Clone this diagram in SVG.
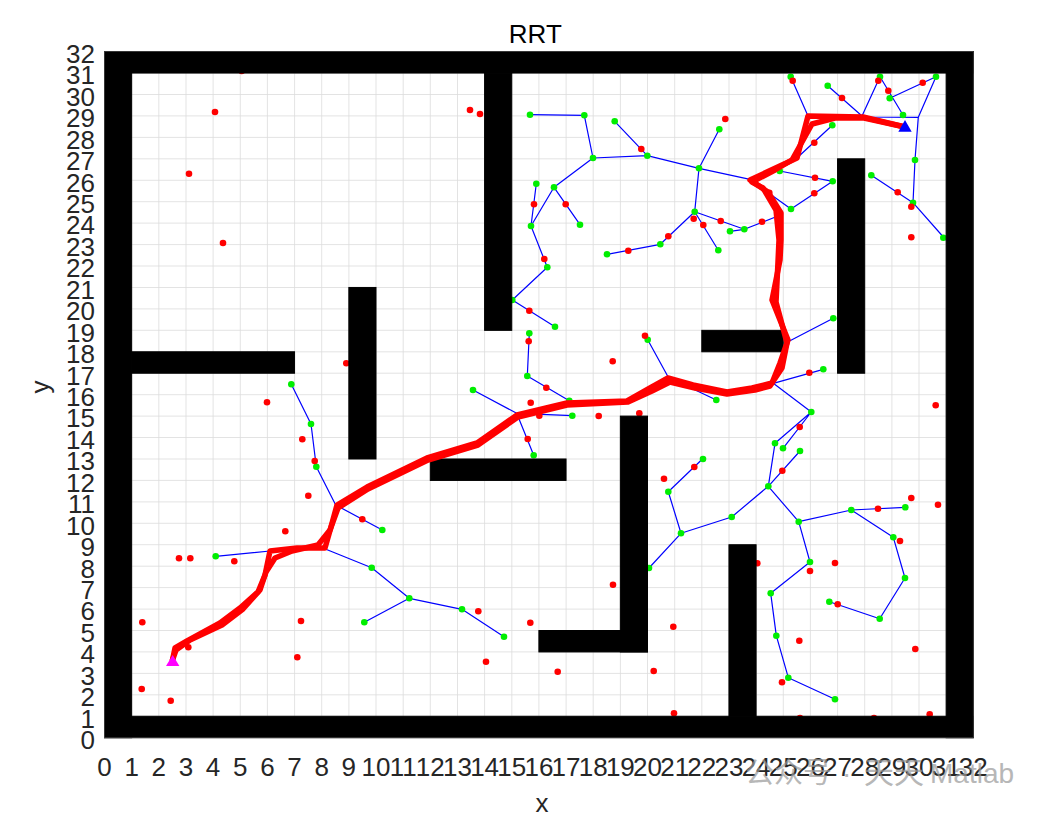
<svg xmlns="http://www.w3.org/2000/svg" width="1049" height="816" viewBox="0 0 1049 816">
<style>
.grid{stroke:#dcdcdc;stroke-width:0.8;fill:none}
.e{stroke:#0000ff;stroke-width:1.2;fill:none;stroke-linejoin:round}
.g{fill:#00ee00}
.r{fill:#ff0000}
.w{fill:#000;stroke:#000;stroke-width:1}
.p{stroke:#ff0000;stroke-width:5.5;fill:none;stroke-linejoin:round;stroke-linecap:round}
.t{font-family:"Liberation Sans",Arial,sans-serif;font-size:26px;fill:#262626}
.xt{text-anchor:middle}
.yt{text-anchor:end}
.wm{font-family:"Liberation Sans","Noto Sans CJK SC",sans-serif;fill:#999;opacity:0.7}
</style>
<rect width="1049" height="816" fill="#fff"/>
<g id="grid">
<path class="grid" d="M131.7 51.6V737.7M158.8 51.6V737.7M186 51.6V737.7M213.1 51.6V737.7M240.3 51.6V737.7M267.4 51.6V737.7M294.6 51.6V737.7M321.7 51.6V737.7M348.9 51.6V737.7M376 51.6V737.7M403.2 51.6V737.7M430.3 51.6V737.7M457.5 51.6V737.7M484.6 51.6V737.7M511.8 51.6V737.7M538.9 51.6V737.7M566.1 51.6V737.7M593.2 51.6V737.7M620.4 51.6V737.7M647.5 51.6V737.7M674.7 51.6V737.7M701.8 51.6V737.7M729 51.6V737.7M756.1 51.6V737.7M783.3 51.6V737.7M810.4 51.6V737.7M837.6 51.6V737.7M864.7 51.6V737.7M891.9 51.6V737.7M919 51.6V737.7M946.2 51.6V737.7"/>
<path class="grid" d="M104.5 716.3H973.3M104.5 694.8H973.3M104.5 673.4H973.3M104.5 651.9H973.3M104.5 630.5H973.3M104.5 609.1H973.3M104.5 587.6H973.3M104.5 566.2H973.3M104.5 544.7H973.3M104.5 523.3H973.3M104.5 501.9H973.3M104.5 480.4H973.3M104.5 459H973.3M104.5 437.5H973.3M104.5 416.1H973.3M104.5 394.7H973.3M104.5 373.2H973.3M104.5 351.8H973.3M104.5 330.3H973.3M104.5 308.9H973.3M104.5 287.5H973.3M104.5 266H973.3M104.5 244.6H973.3M104.5 223.1H973.3M104.5 201.7H973.3M104.5 180.3H973.3M104.5 158.8H973.3M104.5 137.4H973.3M104.5 115.9H973.3M104.5 94.5H973.3M104.5 73.1H973.3"/>
</g>
<g id="tree-edges">
<path class="e" d="M291.3 384.3L311 424L316.3 466.7L335.7 505L382.3 530M215.7 556.3L270 551M325.3 549L371.7 567.7L409.3 598.3L364.3 622.3M409.3 598.3L462 609.3L504 636.7M547.3 267.3L512.3 300L555 326.7M529.3 333.3L527.3 376L569.3 400.7M473 390L516.7 413.3L572.3 415.7M516.7 413.3L533.7 455.3M530 114.7L584.3 115.3L593 158L647.3 155.7L699 168.3L750 179.3M614.7 121.3L647.3 155.7M699 168.3L719.3 129.3M699 168.3L694.7 211.7L718.3 250.3M694.7 211.7L660.3 244.3L607 254.3M694.7 211.7L744.3 229.3L778 216M730 231.3L744.3 229.3M593 158L554 187.3L531 226L536.3 183.7M554 187.3L580 224.7M531 226L547.3 267.3M790.7 76.7L808 116M827.7 85.7L862 116L880 76.7L903 115M862 117L918.3 117.3L936 76.7L889.7 98.3M918.3 117.3L915 160L913 202.7L871.3 175.3M913 202.7L946 240M832.3 125.3L798.3 156.7M779.7 171L832.7 181.3L791 209L760 186.7M647.7 339.7L668.3 377.3L716.3 400M790 340.7L833.3 318.3M773.3 383.3L823.3 369.3M773.3 383.3L811.3 412L775 443.3L768.3 486.3L800 451M811.3 412L783 448.3M768.3 486.3L731.7 517L681 533.3L668.3 491.7L702.7 458.7M681 533.3L649 568M768.3 486.3L798.7 521.7L851.3 510L905.3 507.3M851.3 510L893.3 537.3L905 578L879.7 618.7L829.3 601.7M798.7 521.7L810 562L770.7 593.3L776.3 635.7L788.3 677.7L835 699.3"/>
</g>
<g id="tree-nodes">
<circle class="g" cx="291.3" cy="384.3" r="3.3"/><circle class="g" cx="311" cy="424" r="3.3"/><circle class="g" cx="316.3" cy="466.7" r="3.3"/><circle class="g" cx="382.3" cy="530" r="3.3"/><circle class="g" cx="215.7" cy="556.3" r="3.3"/><circle class="g" cx="371.7" cy="567.7" r="3.3"/><circle class="g" cx="409.3" cy="598.3" r="3.3"/><circle class="g" cx="364.3" cy="622.3" r="3.3"/><circle class="g" cx="462" cy="609.3" r="3.3"/><circle class="g" cx="504" cy="636.7" r="3.3"/>
<circle class="g" cx="547.3" cy="267.3" r="3.3"/><circle class="g" cx="512.3" cy="300" r="3.3"/><circle class="g" cx="555" cy="326.7" r="3.3"/><circle class="g" cx="529.3" cy="333.3" r="3.3"/><circle class="g" cx="527.3" cy="376" r="3.3"/><circle class="g" cx="569.3" cy="400.7" r="3.3"/><circle class="g" cx="473" cy="390" r="3.3"/><circle class="g" cx="572.3" cy="415.7" r="3.3"/><circle class="g" cx="533.7" cy="455.3" r="3.3"/>
<circle class="g" cx="530" cy="114.7" r="3.3"/><circle class="g" cx="584.3" cy="115.3" r="3.3"/><circle class="g" cx="593" cy="158" r="3.3"/><circle class="g" cx="614.7" cy="121.3" r="3.3"/><circle class="g" cx="647.3" cy="155.7" r="3.3"/><circle class="g" cx="699" cy="168.3" r="3.3"/><circle class="g" cx="719.3" cy="129.3" r="3.3"/><circle class="g" cx="694.7" cy="211.7" r="3.3"/><circle class="g" cx="718.3" cy="250.3" r="3.3"/><circle class="g" cx="660.3" cy="244.3" r="3.3"/><circle class="g" cx="607" cy="254.3" r="3.3"/><circle class="g" cx="744.3" cy="229.3" r="3.3"/><circle class="g" cx="730" cy="231.3" r="3.3"/><circle class="g" cx="554" cy="187.3" r="3.3"/><circle class="g" cx="536.3" cy="183.7" r="3.3"/><circle class="g" cx="531" cy="226" r="3.3"/><circle class="g" cx="580" cy="224.7" r="3.3"/>
<circle class="g" cx="790.7" cy="76.7" r="3.3"/><circle class="g" cx="827.7" cy="85.7" r="3.3"/><circle class="g" cx="880" cy="76.7" r="3.3"/><circle class="g" cx="889.7" cy="98.3" r="3.3"/><circle class="g" cx="903" cy="115" r="3.3"/><circle class="g" cx="936" cy="76.7" r="3.3"/><circle class="g" cx="832.3" cy="125.3" r="3.3"/><circle class="g" cx="915" cy="160" r="3.3"/><circle class="g" cx="779.7" cy="171" r="3.3"/><circle class="g" cx="832.7" cy="181.3" r="3.3"/><circle class="g" cx="791" cy="209" r="3.3"/><circle class="g" cx="871.3" cy="175.3" r="3.3"/><circle class="g" cx="913" cy="202.7" r="3.3"/><circle class="g" cx="943.3" cy="237.7" r="3.3"/>
<circle class="g" cx="647.7" cy="339.7" r="3.3"/><circle class="g" cx="716.3" cy="400" r="3.3"/><circle class="g" cx="833.3" cy="318.3" r="3.3"/><circle class="g" cx="823.3" cy="369.3" r="3.3"/><circle class="g" cx="811.3" cy="412" r="3.3"/><circle class="g" cx="775" cy="443.3" r="3.3"/><circle class="g" cx="783" cy="448.3" r="3.3"/><circle class="g" cx="800" cy="451" r="3.3"/><circle class="g" cx="703" cy="459" r="3.3"/><circle class="g" cx="668.3" cy="491.7" r="3.3"/><circle class="g" cx="768.3" cy="486.3" r="3.3"/><circle class="g" cx="731.7" cy="517" r="3.3"/><circle class="g" cx="681" cy="533.3" r="3.3"/><circle class="g" cx="798.7" cy="521.7" r="3.3"/><circle class="g" cx="851.3" cy="510" r="3.3"/><circle class="g" cx="905.3" cy="507.3" r="3.3"/><circle class="g" cx="893.3" cy="537.3" r="3.3"/><circle class="g" cx="649" cy="568" r="3.3"/>
<circle class="g" cx="810" cy="562" r="3.3"/><circle class="g" cx="770.7" cy="593.3" r="3.3"/><circle class="g" cx="776.3" cy="635.7" r="3.3"/><circle class="g" cx="788.3" cy="677.7" r="3.3"/><circle class="g" cx="835" cy="699.3" r="3.3"/><circle class="g" cx="905" cy="578" r="3.3"/><circle class="g" cx="879.7" cy="618.7" r="3.3"/><circle class="g" cx="829.3" cy="601.7" r="3.3"/>
</g>
<g id="samples">
<circle class="r" cx="215" cy="112" r="3.3"/><circle class="r" cx="189" cy="173.7" r="3.3"/><circle class="r" cx="223" cy="243" r="3.3"/><circle class="r" cx="470" cy="110" r="3.3"/><circle class="r" cx="480" cy="114" r="3.3"/><circle class="r" cx="241.7" cy="71" r="3.3"/><circle class="r" cx="142.3" cy="622.3" r="3.3"/><circle class="r" cx="301" cy="621" r="3.3"/><circle class="r" cx="188.3" cy="647.3" r="3.3"/><circle class="r" cx="297.3" cy="657.3" r="3.3"/><circle class="r" cx="141.7" cy="689" r="3.3"/><circle class="r" cx="170.7" cy="700.7" r="3.3"/>
<circle class="r" cx="346.3" cy="363.3" r="3.3"/><circle class="r" cx="267" cy="402.3" r="3.3"/><circle class="r" cx="302.3" cy="439.3" r="3.3"/><circle class="r" cx="308.3" cy="495.7" r="3.3"/><circle class="r" cx="285.3" cy="531.3" r="3.3"/><circle class="r" cx="362.3" cy="519.3" r="3.3"/><circle class="r" cx="179" cy="558.3" r="3.3"/><circle class="r" cx="190.3" cy="558.3" r="3.3"/><circle class="r" cx="234.3" cy="561.3" r="3.3"/><circle class="r" cx="314.7" cy="461" r="3.3"/>
<circle class="r" cx="544.3" cy="259" r="3.3"/><circle class="r" cx="529.3" cy="310.7" r="3.3"/><circle class="r" cx="528.7" cy="341.3" r="3.3"/><circle class="r" cx="612.7" cy="361.3" r="3.3"/><circle class="r" cx="645" cy="335.7" r="3.3"/><circle class="r" cx="546.3" cy="387.7" r="3.3"/><circle class="r" cx="530.7" cy="402.7" r="3.3"/><circle class="r" cx="539.3" cy="415.7" r="3.3"/><circle class="r" cx="598.7" cy="416" r="3.3"/><circle class="r" cx="639.3" cy="413.3" r="3.3"/><circle class="r" cx="527.7" cy="439" r="3.3"/><circle class="r" cx="628.3" cy="250.7" r="3.3"/>
<circle class="r" cx="725.3" cy="119" r="3.3"/><circle class="r" cx="641.3" cy="149" r="3.3"/><circle class="r" cx="534" cy="204.3" r="3.3"/><circle class="r" cx="565.7" cy="204.3" r="3.3"/><circle class="r" cx="693.7" cy="218.7" r="3.3"/><circle class="r" cx="703.3" cy="225" r="3.3"/><circle class="r" cx="720.7" cy="221" r="3.3"/><circle class="r" cx="762" cy="221.7" r="3.3"/><circle class="r" cx="668.3" cy="236.3" r="3.3"/><circle class="r" cx="769.3" cy="192.7" r="3.3"/>
<circle class="r" cx="792.7" cy="80.7" r="3.3"/><circle class="r" cx="842" cy="98" r="3.3"/><circle class="r" cx="878.3" cy="80.7" r="3.3"/><circle class="r" cx="888.3" cy="90.7" r="3.3"/><circle class="r" cx="922.7" cy="82.7" r="3.3"/><circle class="r" cx="814.3" cy="142.7" r="3.3"/><circle class="r" cx="815" cy="177.7" r="3.3"/><circle class="r" cx="814.3" cy="193.3" r="3.3"/><circle class="r" cx="897.7" cy="192.3" r="3.3"/><circle class="r" cx="911.3" cy="206.7" r="3.3"/><circle class="r" cx="911.3" cy="237.3" r="3.3"/>
<circle class="r" cx="809.3" cy="372.7" r="3.3"/><circle class="r" cx="935.7" cy="405.3" r="3.3"/><circle class="r" cx="799.7" cy="427" r="3.3"/><circle class="r" cx="782.3" cy="470.7" r="3.3"/><circle class="r" cx="694.3" cy="467" r="3.3"/><circle class="r" cx="664" cy="478.7" r="3.3"/><circle class="r" cx="911.3" cy="498" r="3.3"/><circle class="r" cx="938" cy="504.7" r="3.3"/><circle class="r" cx="878" cy="508.7" r="3.3"/><circle class="r" cx="900" cy="541" r="3.3"/><circle class="r" cx="810" cy="571" r="3.3"/><circle class="r" cx="835" cy="563" r="3.3"/>
<circle class="r" cx="613" cy="584.7" r="3.3"/><circle class="r" cx="478.3" cy="611.3" r="3.3"/><circle class="r" cx="530.3" cy="622.7" r="3.3"/><circle class="r" cx="673.3" cy="626.7" r="3.3"/><circle class="r" cx="757.3" cy="563.3" r="3.3"/><circle class="r" cx="486" cy="661.7" r="3.3"/><circle class="r" cx="557.7" cy="671.7" r="3.3"/><circle class="r" cx="653.7" cy="671" r="3.3"/><circle class="r" cx="674" cy="713.3" r="3.3"/>
<circle class="r" cx="837.7" cy="604.3" r="3.3"/><circle class="r" cx="799.3" cy="640.7" r="3.3"/><circle class="r" cx="915.3" cy="649" r="3.3"/><circle class="r" cx="782" cy="682.3" r="3.3"/><circle class="r" cx="929.7" cy="714.3" r="3.3"/><circle class="r" cx="800" cy="718" r="3.3"/><circle class="r" cx="874" cy="718" r="3.3"/>
</g>
<g id="obstacles">
<rect class="w" x="104.5" y="51.6" width="27.15" height="686.1"/>
<rect class="w" x="946.15" y="51.6" width="27.15" height="686.1"/>
<rect class="w" x="104.5" y="51.6" width="868.8" height="21.44"/>
<rect class="w" x="104.5" y="716.26" width="868.8" height="21.44"/>
<rect class="w" x="484.6" y="73.06" width="27.15" height="257.28"/>
<rect class="w" x="131.65" y="351.78" width="162.9" height="21.44"/>
<rect class="w" x="348.85" y="287.46" width="27.15" height="171.52"/>
<rect class="w" x="430.3" y="458.98" width="135.75" height="21.44"/>
<rect class="w" x="620.35" y="416.1" width="27.15" height="235.84"/>
<rect class="w" x="538.9" y="630.5" width="108.6" height="21.44"/>
<rect class="w" x="728.95" y="544.74" width="27.15" height="171.52"/>
<rect class="w" x="701.8" y="330.34" width="81.45" height="21.44"/>
<rect class="w" x="837.55" y="158.82" width="27.15" height="214.4"/>
<rect x="104.5" y="51.6" width="868.8" height="686.1" fill="none" stroke="#444" stroke-width="0.8"/>
</g>
<g id="path">
<polyline class="p" points="172.5,660 175,648 187,641 220,623 240,608 258,592 265,575 270,551 297,548 325,548 331,527 337,505 367,487 427,458 477,443 517,415 567,403 627,401 650,388 668,378 693,385 727,392 752,388 772,383 780,363 788,340 772,300 780,260 781,240 781,213 768,192 750,180 797,158 808,116 863,117 905,127"/>
<polyline class="p" points="172.5,660 176,650 190,640 222,625 243,609 260,590 266,572 275,558 292,551 318,545 330,530 338,508 368,489 428,460 478,445 518,417 567,405 628,402 652,391 670,382 695,388 727,394 755,390 770,386 782,368 787,343 776,302 778,262 779,240 776,210 763,188 752,182 775,170 792,160 802,142 812,124 835,118 864,118 905,127"/>
</g>
<g id="start"><polygon points="172.7,655 166,666 179.4,666" fill="#ff00ff"/></g>
<g id="goal"><polygon points="905,120 898.3,131.7 911.7,131.7" fill="#0000ff"/></g>
<g id="labels">
<text x="535.3" y="42.7" style="font-family:'Liberation Sans',Arial,sans-serif;font-size:26px;fill:#000;text-anchor:middle">RRT</text>
<text x="542" y="812" class="t xt">x</text>
<text class="t xt" transform="translate(49,387) rotate(-90)">y</text>
</g>
<g id="x-ticks" class="t xt">
<text x="104.5" y="776">0</text><text x="131.65" y="776">1</text><text x="158.8" y="776">2</text><text x="185.95" y="776">3</text><text x="213.1" y="776">4</text><text x="240.25" y="776">5</text><text x="267.4" y="776">6</text><text x="294.55" y="776">7</text><text x="321.7" y="776">8</text><text x="348.85" y="776">9</text><text x="376" y="776">10</text><text x="403.15" y="776">11</text><text x="430.3" y="776">12</text><text x="457.45" y="776">13</text><text x="484.6" y="776">14</text><text x="511.75" y="776">15</text><text x="538.9" y="776">16</text><text x="566.05" y="776">17</text><text x="593.2" y="776">18</text><text x="620.35" y="776">19</text><text x="647.5" y="776">20</text><text x="674.65" y="776">21</text><text x="701.8" y="776">22</text><text x="728.95" y="776">23</text><text x="756.1" y="776">24</text><text x="783.25" y="776">25</text><text x="810.4" y="776">26</text><text x="837.55" y="776">27</text><text x="864.7" y="776">28</text><text x="891.85" y="776">29</text><text x="919" y="776">30</text><text x="946.15" y="776">31</text><text x="973.3" y="776">32</text>
</g>
<g id="y-ticks" class="t yt">
<text x="95" y="749">0</text><text x="95" y="727.6">1</text><text x="95" y="706.1">2</text><text x="95" y="684.7">3</text><text x="95" y="663.2">4</text><text x="95" y="641.8">5</text><text x="95" y="620.4">6</text><text x="95" y="598.9">7</text><text x="95" y="577.5">8</text><text x="95" y="556">9</text><text x="95" y="534.6">10</text><text x="95" y="513.2">11</text><text x="95" y="491.7">12</text><text x="95" y="470.3">13</text><text x="95" y="448.8">14</text><text x="95" y="427.4">15</text><text x="95" y="406">16</text><text x="95" y="384.5">17</text><text x="95" y="363.1">18</text><text x="95" y="341.6">19</text><text x="95" y="320.2">20</text><text x="95" y="298.8">21</text><text x="95" y="277.3">22</text><text x="95" y="255.9">23</text><text x="95" y="234.4">24</text><text x="95" y="213">25</text><text x="95" y="191.6">26</text><text x="95" y="170.1">27</text><text x="95" y="148.7">28</text><text x="95" y="127.2">29</text><text x="95" y="105.8">30</text><text x="95" y="84.4">31</text><text x="95" y="62.9">32</text>
</g>
<g id="watermark">
<text class="wm" y="783"><tspan x="745" style="font-size:29px">公众号</tspan><tspan x="842" style="font-size:28px">·</tspan><tspan x="864" style="font-size:30px">天天</tspan><tspan x="930" style="font-size:28px">Matlab</tspan></text>
</g>
</svg>
